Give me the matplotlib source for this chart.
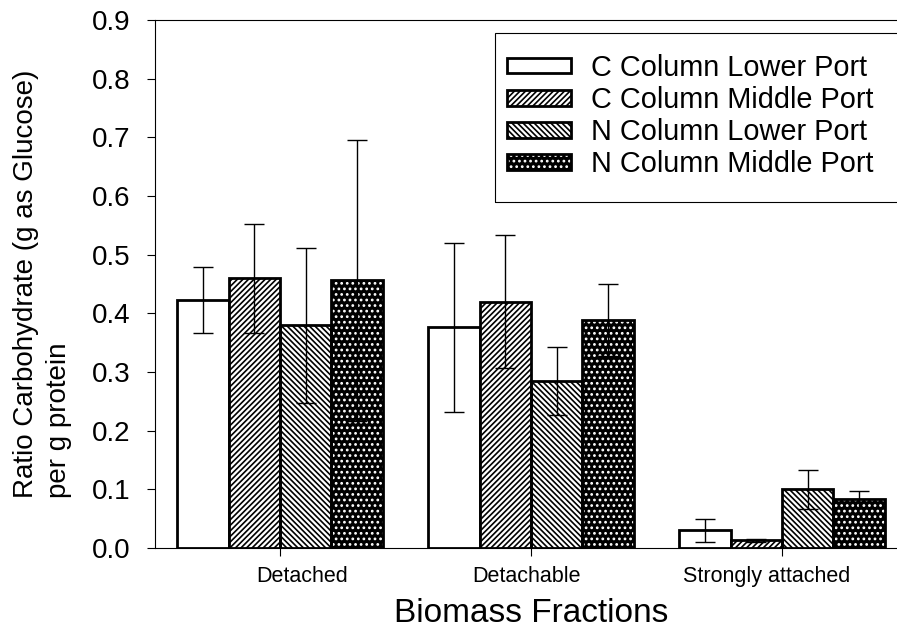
import numpy as np
import matplotlib
matplotlib.use("Agg")
import matplotlib.pyplot as plt
from matplotlib.patches import Patch, Rectangle

plt.rcParams["font.family"] = ["Liberation Sans", "DejaVu Sans"]
plt.rcParams["hatch.linewidth"] = 1.2

# ----------------------------
# data
# ----------------------------
fractions = ["Detached", "Detachable", "Strongly attached"]
series = ["C Column Lower Port", "C Column Middle Port",
          "N Column Lower Port", "N Column Middle Port"]

c_lower = [0.423, 0.376, 0.030]
c_middle = [0.460, 0.420, 0.013]
n_lower = [0.380, 0.285, 0.100]
n_middle = [0.456, 0.389, 0.083]

c_lower_err = [0.056, 0.144, 0.019]
c_middle_err = [0.093, 0.114, 0.002]
n_lower_err = [0.132, 0.058, 0.033]
n_middle_err = [0.239, 0.061, 0.014]

# the category labels are not centred on their ticks in the original
label_shift = [0.088, -0.02, -0.06]

values = [c_lower, c_middle, n_lower, n_middle]
errors = [c_lower_err, c_middle_err, n_lower_err, n_middle_err]

HATCH_C = "//////"
HATCH_N = "\\\\\\\\\\\\"
HATCH_DOT = "..."

W, H = 897, 628


def main():
    fig = plt.figure(figsize=(W / 100, H / 100), dpi=100)
    ax = fig.add_axes([155 / W, 1 - 548 / H, 1 - 155 / W, (548 - 20) / H])

    x = np.arange(len(fractions))
    w = 0.205
    offsets = np.array([-1.5, -0.5, 0.5, 1.5]) * w

    for i, vals in enumerate(values):
        xs = x + offsets[i]
        if i == 0:
            ax.bar(xs, vals, w, facecolor="white", edgecolor="black", linewidth=2.0, zorder=2)
        elif i in (1, 2):
            hatch = HATCH_C if i == 1 else HATCH_N
            ax.bar(xs, vals, w, facecolor="white", edgecolor="black", hatch=hatch,
                   linewidth=0, zorder=2)
            ax.bar(xs, vals, w, fill=False, edgecolor="black", linewidth=2.0, zorder=3)
        else:
            ax.bar(xs, vals, w, facecolor="black", edgecolor="white", hatch=HATCH_DOT,
                   linewidth=0, zorder=2)
            ax.bar(xs, vals, w, fill=False, edgecolor="black", linewidth=2.0, zorder=3)
        ax.errorbar(xs, vals, yerr=errors[i], fmt="none", ecolor="black",
                    elinewidth=1.0, capsize=7, capthick=1.0, zorder=4)

    ax.set_xlim(-0.498, 2.458)
    ax.set_ylim(0, 0.9)
    yt = np.arange(0, 0.91, 0.1)
    ax.set_yticks(yt)
    ax.set_yticklabels([f"{v:.1f}" for v in yt], fontsize=20)

    # major ticks: marks only; minor ticks: labels only
    ax.set_xticks(x)
    ax.set_xticklabels([])
    ax.set_xticks(x + np.array(label_shift), minor=True)
    ax.set_xticklabels(fractions, minor=True, fontsize=15.5)
    ax.tick_params(axis="both", direction="out", length=6, width=0.8, colors="black")
    ax.tick_params(axis="x", which="minor", length=0, pad=13)
    ax.tick_params(axis="y", pad=12)

    ax.spines["right"].set_visible(False)
    for s in ("left", "top", "bottom"):
        ax.spines[s].set_linewidth(0.8)

    ax.set_xlabel("Biomass Fractions", fontsize=24, labelpad=2)
    ax.xaxis.set_label_coords((531 - 155) / (897 - 155), -0.095)
    ax.set_ylabel("Ratio Carbohydrate (g as Glucose)\nper g protein", fontsize=20,
                  multialignment="left", labelpad=14, linespacing=1.35)

    # legend box runs off the right edge in the original -> draw frame by hand
    fig.patches.append(Rectangle((495 / W, 1 - 202 / H), 500 / W, (202 - 33) / H,
                                 transform=fig.transFigure, fill=False,
                                 edgecolor="black", linewidth=0.8, zorder=5))

    leg_handles = [
        Patch(facecolor="white", edgecolor="black", linewidth=2.0),
        (Patch(facecolor="white", edgecolor="black", hatch=HATCH_C, linewidth=0),
         Patch(fill=False, edgecolor="black", linewidth=2.0)),
        (Patch(facecolor="white", edgecolor="black", hatch=HATCH_N, linewidth=0),
         Patch(fill=False, edgecolor="black", linewidth=2.0)),
        (Patch(facecolor="black", edgecolor="white", hatch=HATCH_DOT, linewidth=0),
         Patch(fill=False, edgecolor="black", linewidth=2.0)),
    ]
    ax.legend(leg_handles, series, loc="upper left",
              bbox_to_anchor=(507 / W, 1 - 54 / H), bbox_transform=fig.transFigure,
              fontsize=20.8, frameon=False,
              handlelength=2.2, handleheight=0.45, labelspacing=0.14,
              borderpad=0, handletextpad=0.72, borderaxespad=0)

    fig.savefig("out.png", dpi=100)


if __name__ == "__main__":
    main()
